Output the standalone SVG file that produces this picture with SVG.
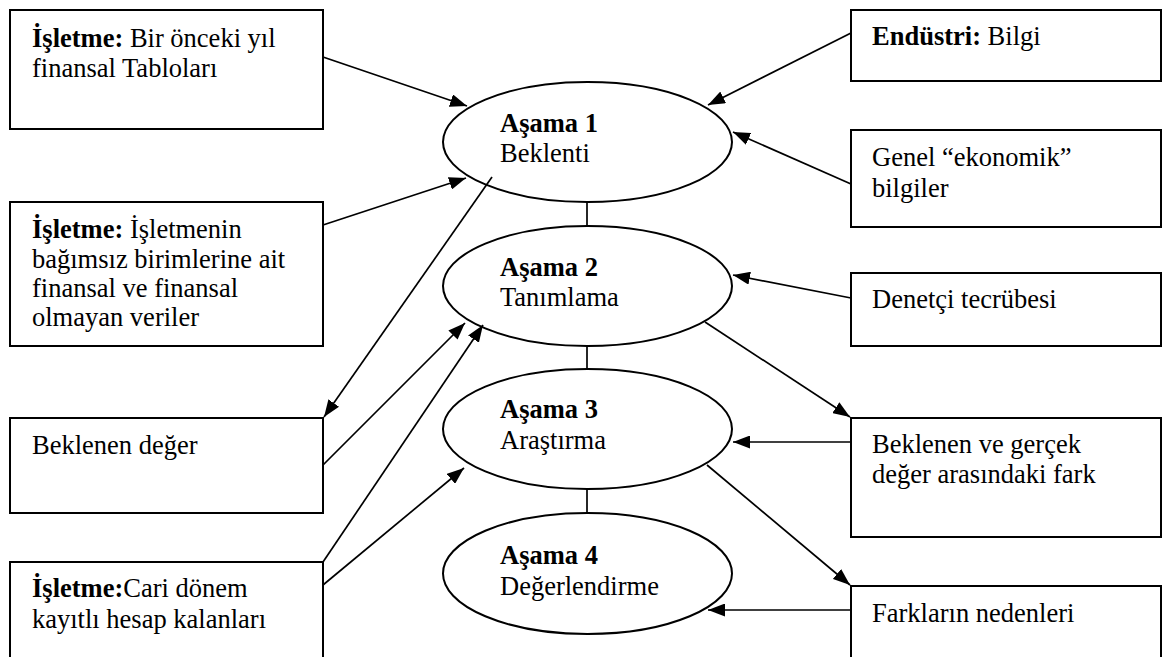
<svg xmlns="http://www.w3.org/2000/svg" width="1163" height="657" viewBox="0 0 1163 657">
  <style>
    .box { fill: #fff; stroke: #000; stroke-width: 2; }
    .stage { fill: #fff; stroke: #000; stroke-width: 2; }
    .t { font-family: "Liberation Serif", "Times New Roman", serif; font-size: 26.5px; fill: #000; }
    .b { font-weight: bold; }
    .link { fill: none; stroke: #000; stroke-width: 1.7; }
    .arrow { fill: none; stroke: #000; stroke-width: 1.7; marker-end: url(#head); }
  </style>
  <defs>
    <marker id="head" viewBox="0 0 17 13" refX="17" refY="6.5" markerWidth="17" markerHeight="13" markerUnits="userSpaceOnUse" orient="auto">
      <path d="M0,0 L17,6.5 L0,13 z" fill="#000"/>
    </marker>
  </defs>
  <rect width="1163" height="657" fill="#fff"/>

  <!-- left-hand source boxes -->
  <g id="onceki-yil">
    <rect class="box" x="10" y="10" width="313" height="119"/>
    <text class="t" x="32" y="47"><tspan class="b">İşletme:</tspan> Bir önceki yıl</text>
    <text class="t" x="32" y="77">finansal Tabloları</text>
  </g>
  <g id="birim-verileri">
    <rect class="box" x="10" y="202" width="313" height="144"/>
    <text class="t" x="32" y="238"><tspan class="b">İşletme:</tspan> İşletmenin</text>
    <text class="t" x="32" y="268">bağımsız birimlerine ait</text>
    <text class="t" x="32" y="297">finansal ve finansal</text>
    <text class="t" x="32" y="326">olmayan veriler</text>
  </g>
  <g id="beklenen-deger">
    <rect class="box" x="10" y="418" width="313" height="95"/>
    <text class="t" x="32" y="454">Beklenen değer</text>
  </g>
  <g id="cari-donem">
    <rect class="box" x="10" y="562" width="313" height="110"/>
    <text class="t" x="32" y="597"><tspan class="b">İşletme:</tspan>Cari dönem</text>
    <text class="t" x="32" y="628">kayıtlı hesap kalanları</text>
  </g>

  <!-- stages -->
  <g id="asama-1">
    <ellipse class="stage" cx="587.5" cy="142" rx="144.5" ry="60"/>
    <text class="t b" x="500" y="132">Aşama 1</text>
    <text class="t" x="500" y="162">Beklenti</text>
  </g>
  <g id="asama-2">
    <ellipse class="stage" cx="587.5" cy="286" rx="144.5" ry="60"/>
    <text class="t b" x="500" y="276">Aşama 2</text>
    <text class="t" x="500" y="306">Tanımlama</text>
  </g>
  <g id="asama-3">
    <ellipse class="stage" cx="587.5" cy="429" rx="144.5" ry="60"/>
    <text class="t b" x="500" y="418">Aşama 3</text>
    <text class="t" x="500" y="449">Araştırma</text>
  </g>
  <g id="asama-4">
    <ellipse class="stage" cx="587.5" cy="573.5" rx="144.5" ry="60.5"/>
    <text class="t b" x="500" y="564">Aşama 4</text>
    <text class="t" x="500" y="595">Değerlendirme</text>
  </g>

  <!-- right-hand boxes -->
  <g id="endustri">
    <rect class="box" x="851" y="10" width="310" height="71"/>
    <text class="t" x="872" y="45"><tspan class="b">Endüstri:</tspan> Bilgi</text>
  </g>
  <g id="ekonomik">
    <rect class="box" x="851" y="130" width="310" height="97"/>
    <text class="t" x="872" y="166">Genel “ekonomik”</text>
    <text class="t" x="872" y="197">bilgiler</text>
  </g>
  <g id="denetci">
    <rect class="box" x="851" y="273" width="310" height="73"/>
    <text class="t" x="872" y="308">Denetçi tecrübesi</text>
  </g>
  <g id="fark">
    <rect class="box" x="851" y="418" width="310" height="119"/>
    <text class="t" x="872" y="453">Beklenen ve gerçek</text>
    <text class="t" x="872" y="483">değer arasındaki fark</text>
  </g>
  <g id="nedenler">
    <rect class="box" x="851" y="586" width="310" height="90"/>
    <text class="t" x="872" y="622">Farkların nedenleri</text>
  </g>

  <!-- connectors -->
  <g id="connectors">
    <line class="link" x1="587" y1="202" x2="587" y2="226"/>
    <line class="link" x1="587" y1="346" x2="587" y2="369"/>
    <line class="link" x1="587" y1="489" x2="587" y2="513"/>

    <line class="arrow" x1="323" y1="57" x2="467" y2="106"/>
    <line class="arrow" x1="323" y1="225" x2="466" y2="178"/>
    <line class="arrow" x1="492" y1="177" x2="324" y2="417"/>
    <line class="arrow" x1="323" y1="465" x2="465" y2="323"/>
    <line class="arrow" x1="323" y1="562" x2="483" y2="325"/>
    <line class="arrow" x1="323" y1="585" x2="464" y2="468"/>

    <line class="arrow" x1="851" y1="33" x2="708" y2="105"/>
    <line class="arrow" x1="851" y1="184" x2="733" y2="132"/>
    <line class="arrow" x1="851" y1="298" x2="733" y2="275"/>
    <line class="arrow" x1="705" y1="322" x2="850" y2="417"/>
    <line class="arrow" x1="851" y1="442" x2="733" y2="442"/>
    <line class="arrow" x1="707" y1="465" x2="850" y2="585"/>
    <line class="arrow" x1="851" y1="610" x2="708" y2="610"/>
  </g>
</svg>
